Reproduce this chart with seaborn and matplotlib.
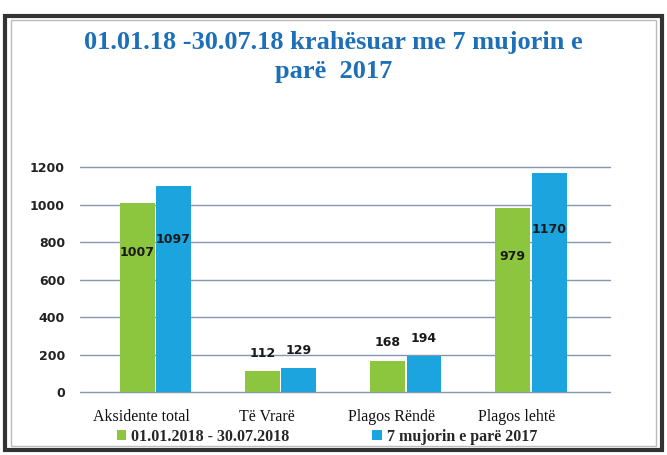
import matplotlib
matplotlib.use("Agg")
import matplotlib.pyplot as plt
import matplotlib.transforms as mtransforms
import seaborn as sns
import pandas as pd
from matplotlib.patches import Rectangle, Patch

categories = ["Aksidente total", "Të Vrarë", "Plagos Rëndë", "Plagos lehtë"]
series_names = ["01.01.2018 - 30.07.2018", "7 mujorin e parë 2017"]
values_2018 = [1007, 112, 168, 979]
values_2017 = [1097, 129, 194, 1170]
yticks = [0, 200, 400, 600, 800, 1000, 1200]
title = "01.01.18 -30.07.18 krahësuar me 7 mujorin e\nparë  2017"

df = pd.DataFrame({
    "cat": categories * 2,
    "series": [series_names[0]] * 4 + [series_names[1]] * 4,
    "value": values_2018 + values_2017,
})

sns.set_theme(style="white")
plt.rcParams['font.family'] = ['DejaVu Sans']

fig = plt.figure(figsize=(6.67, 4.55), dpi=100)
ax = fig.add_axes([0.139, 0.138, 0.751, 0.495])

colors = ["#8cc63e", "#1ba4dd"]
sns.barplot(data=df, x="cat", y="value", hue="series", palette=colors,
            width=0.58, gap=0.04, ax=ax, legend=False, saturation=1,
            edgecolor="none")

ax.set_ylim(0, 1200)
ax.set_xlim(-0.5, 3.5)
ax.set_yticks(yticks)
ax.set_yticklabels([str(t) for t in yticks], fontsize=9, fontweight="bold",
                   color="#222222")
for t in yticks:
    ax.axhline(t, xmin=-0.026, xmax=1.032, color="#8497ad", linewidth=1.0,
               clip_on=False, zorder=0)
for s in ["top", "right", "left", "bottom"]:
    ax.spines[s].set_visible(False)
ax.set_xlabel("")
ax.set_ylabel("")
ax.tick_params(axis="y", length=0, pad=20)
ax.tick_params(axis="x", length=0, pad=12)
ax.set_xticks(range(4))
ax.set_xticklabels(categories, fontsize=11.5, family="Liberation Serif",
                   color="#111111")
offset = mtransforms.ScaledTranslation(-14 / 100, 0, fig.dpi_scale_trans)
for lbl in ax.get_xticklabels():
    lbl.set_transform(lbl.get_transform() + offset)

# value labels
for container in ax.containers:
    for bar in container:
        h = bar.get_height()
        xc = bar.get_x() + bar.get_width() / 2
        if h > 600:
            ax.text(xc, h * 0.74, f"{int(h)}", ha="center", va="center",
                    fontsize=9, color="#1a1a1a", fontweight="bold")
        else:
            ax.text(xc, h + 60, f"{int(h)}", ha="center", va="bottom",
                    fontsize=9, color="#1a1a1a", fontweight="bold")

# legend
handles = [Patch(facecolor=c, edgecolor="none") for c in colors]
fig.legend(handles, series_names, loc="center", bbox_to_anchor=(0.49, 0.04),
           ncol=2, frameon=False, handlelength=0.6, handleheight=0.6,
           handletextpad=0.3, columnspacing=5.2,
           prop={"family": "Liberation Serif", "weight": "bold", "size": 11.5})

# title
fig.text(0.5, 0.875, title, ha="center", va="center", fontsize=19,
         fontweight="bold", family="Liberation Serif", color="#1d70b7",
         linespacing=1.3)

# frame
fig.patches.append(Rectangle((0.008, 0.01), 0.984, 0.955, transform=fig.transFigure,
                             fill=False, edgecolor="#333333", linewidth=3))
fig.patches.append(Rectangle((0.016, 0.02), 0.968, 0.935, transform=fig.transFigure,
                             fill=False, edgecolor="#bbbbbb", linewidth=1))

fig.savefig("out.png", dpi=100)
